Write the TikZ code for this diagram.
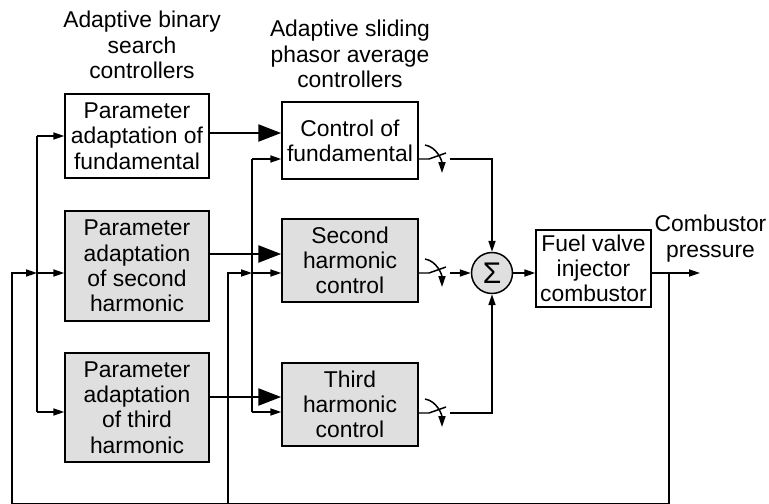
\documentclass[tikz,border=0pt]{standalone}
\usepackage{fontspec}
\setmainfont{Liberation Sans}
\usetikzlibrary{arrows.meta}

\begin{document}
\begin{tikzpicture}[x=0.02cm, y=-0.02cm, line width=0.85pt,
        font=\fontsize{13}{14.4}\selectfont,
        box/.style={draw, align=center, inner sep=0pt},
        shaded/.style={box, fill=gray!25},
        arr/.style={-{Triangle[length=6.2pt,width=4pt]}},
        big/.style={line width=1.7pt, -{Triangle[length=13pt,width=9.5pt]}}]
    \useasboundingbox (0,0) rectangle (769,504);

    % headers
    \node[align=center] (hdr1) at (142,45) {Adaptive binary\\search\\controllers};
    \node[align=center] (hdr2) at (350,54) {Adaptive sliding\\phasor average\\controllers};

    % blocks
    \node[box, minimum width=2.88cm, minimum height=1.68cm] (pa1) at (137,136) {Parameter\\adaptation of\\fundamental};
    \node[shaded, minimum width=2.88cm, minimum height=2.2cm] (pa2) at (137,266) {Parameter\\adaptation\\of second\\harmonic};
    \node[shaded, minimum width=2.88cm, minimum height=2.18cm] (pa3) at (137,407.5) {Parameter\\adaptation\\of third\\harmonic};
    \node[box, minimum width=2.72cm, minimum height=1.54cm] (ctl1) at (350,140.5) {Control of\\fundamental};
    \node[shaded, minimum width=2.72cm, minimum height=1.66cm] (ctl2) at (350,260.5) {Second\\harmonic\\control};
    \node[shaded, minimum width=2.72cm, minimum height=1.66cm] (ctl3) at (350,404.5) {Third\\harmonic\\control};
    \node[circle, draw, fill=gray!25, minimum size=0.82cm, inner sep=0pt,
        font=\fontsize{17}{17}\selectfont] (sum) at (492,273) {Σ};
    \node[box, minimum width=2.3cm, minimum height=1.54cm] (fuel) at (593.5,268.5) {Fuel valve\\injector\\combustor};
    \node[align=center] (outlbl) at (710.5,238.5) {Combustor\\pressure};

    % feedback points
    \coordinate (tap) at (669,273);
    \coordinate (out) at (700,273);
    \coordinate (fbR) at (669,504.2);
    \coordinate (fbM) at (228,504.2);
    \coordinate (fbL) at (12,504.2);
    \coordinate (jL) at (37,273);
    \coordinate (jM) at (252,273);
    \coordinate (busL1) at (37,136);
    \coordinate (busL3) at (37,412);
    \coordinate (busM1) at (252,159);
    \coordinate (busM3) at (252,412);

    % output and feedback
    \draw[arr] (sum) -- (fuel.west |- sum);
    \draw[arr] (fuel.east |- sum) -- (out);
    \draw (tap) -- (fbR) -- (fbL);
    \draw[arr] (fbL) |- (jL);
    \draw[arr] (fbM) |- (jM);

    % inputs of the adaptation blocks
    \draw (busL1) -- (busL3);
    \draw[arr] (busL1) -- (pa1.west);
    \draw[arr] (jL) -- (pa2.west |- jL);
    \draw[arr] (busL3) -- (pa3.west |- busL3);

    % inputs of the controllers
    \draw (busM1) -- (busM3);
    \draw[arr] (busM1) -- (ctl1.west |- busM1);
    \draw[arr] (jM) -- (ctl2.west |- jM);
    \draw[arr] (busM3) -- (ctl3.west |- busM3);

    % adapted parameters
    \path ([yshift=0.06cm]pa1.east) coordinate (t1);
    \path ([yshift=0.24cm]pa2.east) coordinate (t2);
    \path ([yshift=0.21cm]pa3.east) coordinate (t3);
    \foreach \i in {1,2,3}
        \draw[big] (t\i) -- (t\i -| ctl\i.west);

    % switches
    \foreach \i/\y in {1/159, 2/273, 3/413} {
        \coordinate (sw\i) at (429,\y);
        \coordinate (so\i) at (450,\y);
        \draw (ctl\i.east |- sw\i) -- (sw\i) -- ++(17,-6);
        \draw[arr] ([shift={(-4,-14)}]sw\i) .. controls +(12,2) and +(0,-12) .. ([shift={(13,14)}]sw\i);
    }
    \draw[arr] (so1) -| (sum.north);
    \draw[arr] (so2) -- (sum.west);
    \draw[arr] (so3) -| (sum.south);
\end{tikzpicture}
\end{document}
